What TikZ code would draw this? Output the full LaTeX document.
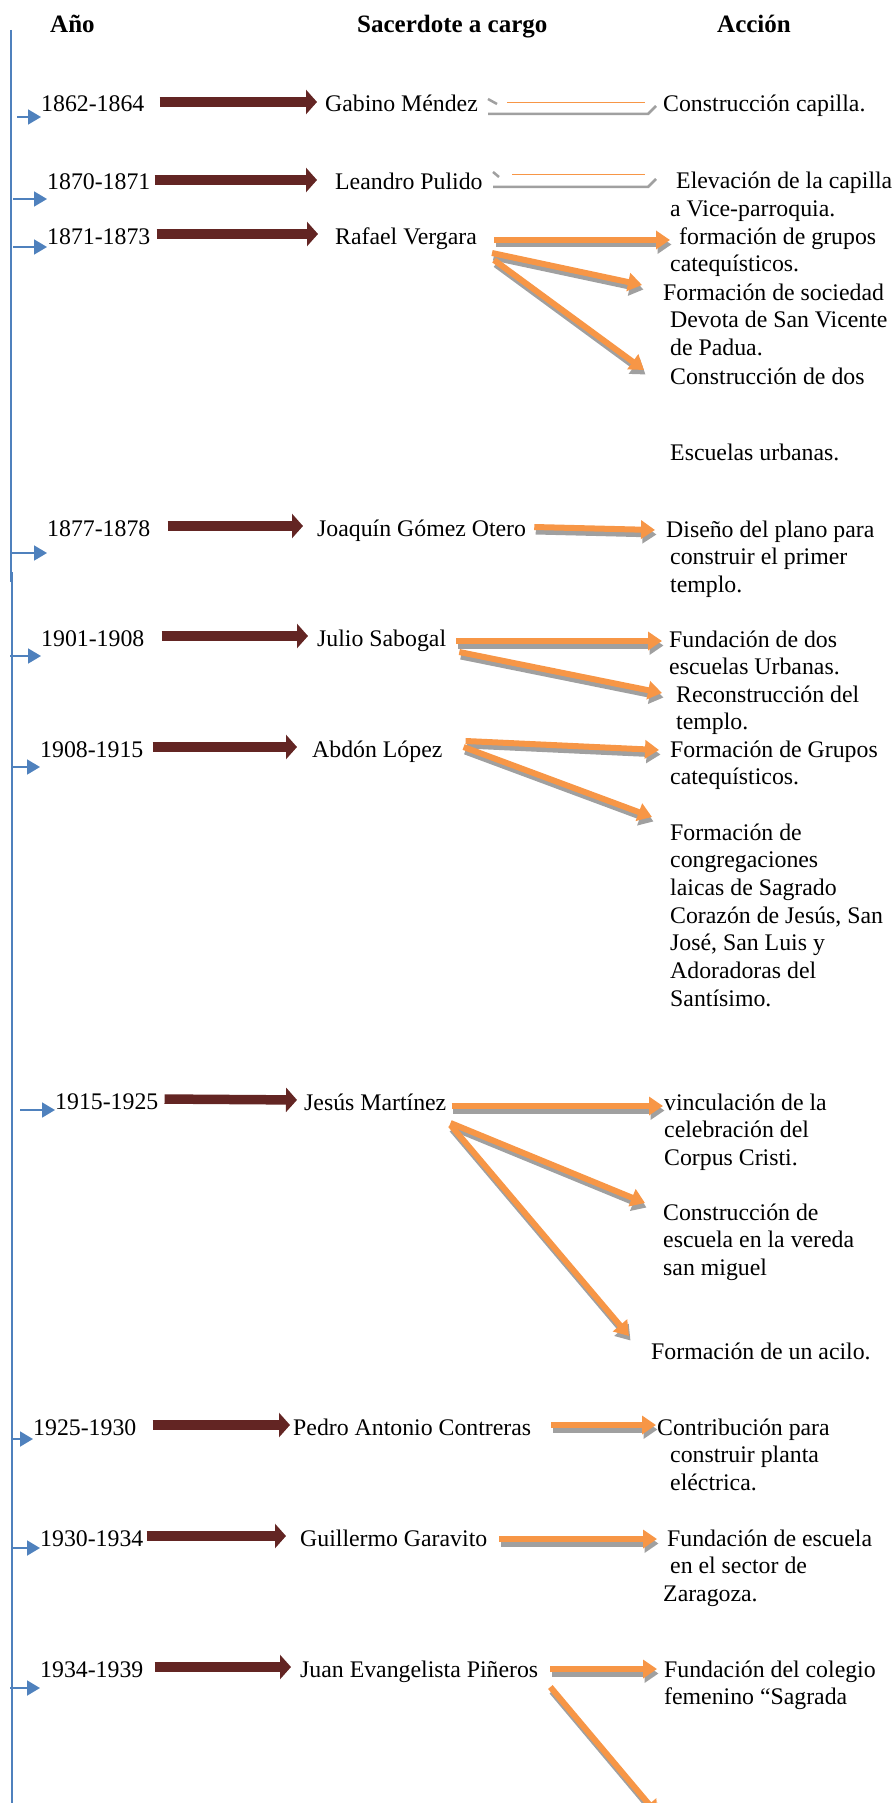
\documentclass[tikz,border=0pt]{standalone}
\usepackage{fontspec}
\setmainfont{Liberation Serif}
\usetikzlibrary{arrows.meta}

\definecolor{timeblue}{HTML}{4F81BD}
\definecolor{maroon}{HTML}{632523}
\definecolor{accorange}{HTML}{F79646}
\definecolor{shadowgray}{HTML}{A0A0A0}

\newcommand{\actlines}[1]{\begin{tabular}[t]{@{}l@{}}#1\end{tabular}}
\newcommand{\orangelink}[2]{%
	\draw[orangearrow, draw=shadowgray, transform canvas={xshift=1.5pt,yshift=-4.5pt}] #1 -- #2;
	\draw[orangearrow] #1 -- #2;}

\tikzset{
	txt/.style={anchor=base west, inner sep=0pt, font=\fontsize{23.8}{27.7}\selectfont},
	headtxt/.style={anchor=base west, inner sep=0pt, font=\fontsize{25}{30}\selectfont\bfseries},
	redarrow/.style={draw=maroon, line width=9.5pt, -{Triangle[length=11pt,width=24pt]}, transform canvas={yshift=10pt}},
	bluearrow/.style={draw=timeblue, line width=1.8pt, -{Triangle[length=13pt,width=15pt]}},
	orangearrow/.style={draw=accorange, line width=6pt, -{Triangle[length=14pt,width=18pt]}},
}

\begin{document}
\begin{tikzpicture}[x=1pt,y=-1pt]
		\useasboundingbox (0,0) rectangle (896,1803);
		\clip (0,0) rectangle (896,1803);

		% headers
		\node[headtxt] (hyear) at (50,33) {Año};
		\node[headtxt] (hpriest) at (357,33) {Sacerdote a cargo};
		\node[headtxt] (haction) at (717,33) {Acción};

		% timeline
		\draw[timeblue, line width=1.6pt] (11,30) -- (11,582);
		\draw[timeblue, line width=1.6pt] (12,572) -- (12,1803);

		% years
		\node[txt] (y1) at (41,112) {1862-1864};
		\node[txt] (y2) at (47,190) {1870-1871};
		\node[txt] (y3) at (47,244) {1871-1873};
		\node[txt] (y4) at (47,536) {1877-1878};
		\node[txt] (y5) at (41,646) {1901-1908};
		\node[txt] (y6) at (40,757) {1908-1915};
		\node[txt] (y7) at (55,1109) {1915-1925};
		\node[txt] (y8) at (33,1435) {1925-1930};
		\node[txt] (y9) at (40,1546) {1930-1934};
		\node[txt] (y10) at (40,1677) {1934-1939};

		% priests
		\node[txt] (p1) at (325,112) {Gabino Méndez};
		\node[txt] (p2) at (335,190) {Leandro Pulido};
		\node[txt] (p3) at (335,244) {Rafael Vergara};
		\node[txt] (p4) at (317,536) {Joaquín Gómez Otero};
		\node[txt] (p5) at (317,646) {Julio Sabogal};
		\node[txt] (p6) at (312,757) {Abdón López};
		\node[txt] (p7) at (304,1110) {Jesús Martínez};
		\node[txt] (p8) at (293,1435) {Pedro Antonio Contreras};
		\node[txt] (p9) at (300,1546) {Guillermo Garavito};
		\node[txt] (p10) at (300,1677) {Juan Evangelista Piñeros};

		% actions
		\node[txt] (a1) at (663,112) {Construcción capilla.};
		\node[txt] (a2) at (670,189) {\actlines{\hspace*{6pt}Elevación de la capilla\\a Vice-parroquia.}};
		\node[txt] (a3) at (670,244) {\actlines{\hspace*{9pt}formación de grupos\\catequísticos.}};
		\node[txt] (a4) at (663,300) {\actlines{Formación de sociedad\\\hspace*{7pt}Devota de San Vicente\\\hspace*{7pt}de Padua.}};
		\node[txt] (a5) at (670,384) {Construcción de dos};
		\node[txt] (a6) at (670,460) {Escuelas urbanas.};
		\node[txt] (a7) at (666,537) {\actlines{Diseño del plano para\\\hspace*{4pt}construir el primer\\\hspace*{4pt}templo.}};
		\node[txt] (a8) at (669,647) {\actlines{Fundación de dos\\escuelas Urbanas.}};
		\node[txt] (a9) at (676,702) {\actlines{Reconstrucción del\\templo.}};
		\node[txt] (a10) at (670,757) {\actlines{Formación de Grupos\\catequísticos.}};
		\node[txt] (a11) at (670,840) {\actlines{Formación de\\congregaciones\\laicas de Sagrado\\Corazón de Jesús, San\\José, San Luis y\\Adoradoras del\\Santísimo.}};
		\node[txt] (a12) at (664,1110) {\actlines{vinculación de la\\celebración del\\Corpus Cristi.}};
		\node[txt] (a13) at (663,1220) {\actlines{Construcción de\\escuela en la vereda\\san miguel}};
		\node[txt] (a14) at (651,1359) {Formación de un acilo.};
		\node[txt] (a15) at (657,1435) {\actlines{Contribución para\\\hspace*{13pt}construir planta\\\hspace*{13pt}eléctrica.}};
		\node[txt] (a16) at (663,1546) {\actlines{\hspace*{4pt}Fundación de escuela\\\hspace*{7pt}en el sector de\\Zaragoza.}};
		\node[txt] (a17) at (664,1677) {\actlines{Fundación del colegio\\femenino “Sagrada}};

		% timeline to year
		\coordinate (t1) at (17,117);
		\coordinate (t2) at (13,199);
		\coordinate (t3) at (13,247);
		\coordinate (t4) at (10,553);
		\coordinate (t5) at (10,656);
		\coordinate (t6) at (13,767);
		\coordinate (t7) at (20,1110);
		\coordinate (t8) at (13,1439);
		\coordinate (t9) at (13,1548);
		\coordinate (t10) at (10,1688);
		\foreach \i in {1,...,10}
		\draw[bluearrow] (t\i) -- (t\i -| y\i.west);

		% year to priest
		\draw[redarrow, shorten <=15pt, shorten >=8pt] (y1.base east) -- (p1.base west);
		\draw[redarrow, shorten <=4pt, shorten >=18pt] (y2.base east) -- (p2.base west);
		\draw[redarrow, shorten <=6pt, shorten >=17pt] (y3.base east) -- (p3.base west);
		\draw[redarrow, shorten <=17pt, shorten >=14pt] (y4.base east) -- (p4.base west);
		\draw[redarrow, shorten <=17pt, shorten >=9pt] (y5.base east) -- (p5.base west);
		\draw[redarrow, shorten <=9pt, shorten >=15pt] (y6.base east) -- (p6.base west);
		\draw[redarrow, shorten <=6pt, shorten >=7pt] (y7.base east) -- (p7.base west);
		\draw[redarrow, shorten <=16pt, shorten >=3pt] (y8.base east) -- (p8.base west);
		\draw[redarrow, shorten <=3pt, shorten >=14pt] (y9.base east) -- (p9.base west);
		\draw[redarrow, shorten <=11pt, shorten >=9pt] (y10.base east) -- (p10.base west);

		% broken arrows of the first two rows
		\draw[shadowgray, line width=2.5pt] (488,99) -- (497,104);
		\draw[shadowgray, line width=2.5pt] (488,114) -- (648,114) -- (656,106);
		\draw[accorange, line width=1pt] (507,103) -- (645,103);
		\draw[shadowgray, line width=2.5pt] (493,172) -- (499,177);
		\draw[shadowgray, line width=2.5pt] (493,187) -- (648,187) -- (656,179);
		\draw[accorange, line width=1pt] (512,175) -- (645,175);

		% priest to action
		\orangelink{([xshift=17pt,yshift=4pt]p3.base east)}{([yshift=4pt]a3.base west)}
		\orangelink{([xshift=15pt,yshift=-9pt]p3.base east)}{([xshift=-21pt,yshift=15pt]a4.base west)}
		\orangelink{([xshift=17pt,yshift=-16pt]p3.base east)}{([xshift=-26pt,yshift=14pt]a5.base west)}
		\orangelink{([xshift=8pt,yshift=9pt]p4.base east)}{([xshift=-11pt,yshift=7pt]a7.base west)}
		\orangelink{([xshift=10pt,yshift=5pt]p5.base east)}{([xshift=-7pt,yshift=6pt]a8.base west)}
		\orangelink{([xshift=13pt,yshift=-6pt]p5.base east)}{([xshift=-14pt,yshift=9pt]a9.base west)}
		\orangelink{([xshift=23pt,yshift=16pt]p6.base east)}{([xshift=-11pt,yshift=7pt]a10.base west)}
		\orangelink{([xshift=21pt,yshift=10pt]p6.base east)}{([xshift=-18pt,yshift=23pt]a11.base west)}
		\orangelink{([xshift=5pt,yshift=4pt]p7.base east)}{([xshift=-1pt,yshift=4pt]a12.base west)}
		\orangelink{([xshift=4pt,yshift=-13pt]p7.base east)}{([xshift=-18pt,yshift=17pt]a13.base west)}
		\orangelink{([xshift=4pt,yshift=-15pt]p7.base east)}{([xshift=-22pt,yshift=23pt]a14.base west)}
		\orangelink{([xshift=20pt,yshift=10pt]p8.base east)}{([xshift=-1pt,yshift=10pt]a15.base west)}
		\orangelink{([xshift=12pt,yshift=7pt]p9.base east)}{([xshift=-6pt,yshift=7pt]a16.base west)}
		\orangelink{([xshift=12pt,yshift=8pt]p10.base east)}{([xshift=-7pt,yshift=8pt]a17.base west)}
		\coordinate (pend) at (658,1815);
		\orangelink{([xshift=12pt,yshift=-10pt]p10.base east)}{(pend)}
\end{tikzpicture}
\end{document}
